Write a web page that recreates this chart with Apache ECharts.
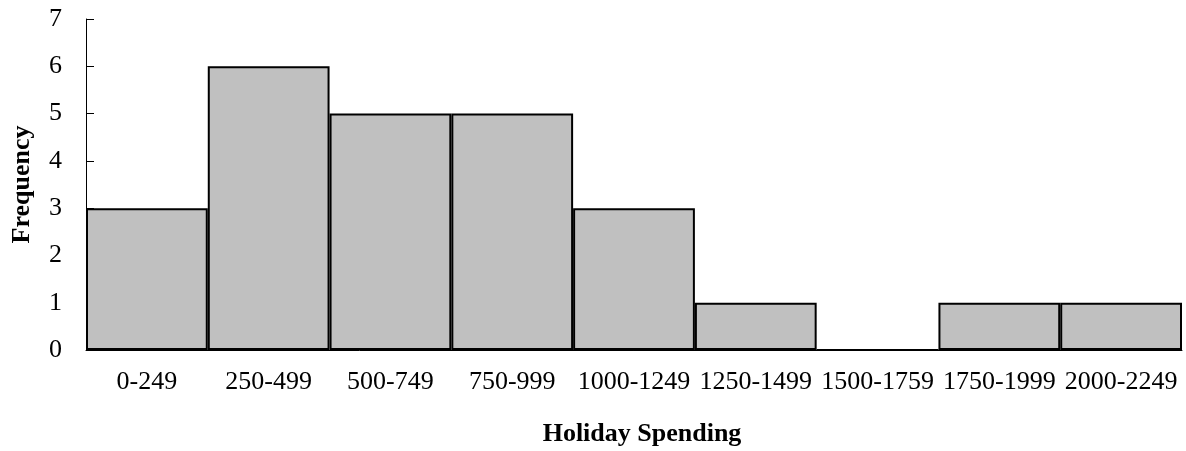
<!DOCTYPE html>
<html>
<head>
<meta charset="utf-8">
<style>html,body{margin:0;padding:0;background:#fff}#c{width:1186px;height:451px}</style>
<script src="https://cdn.jsdelivr.net/npm/echarts@6/dist/echarts.min.js"></script>
</head>
<body>
<div id="c"></div>
<script>
var categories = ['0-249','250-499','500-749','750-999','1000-1249','1250-1499','1500-1759','1750-1999','2000-2249'];
var frequency = [3, 6, 5, 5, 3, 1, 0, 1, 1];
var yTicks = [0, 1, 2, 3, 4, 5, 6, 7];
var xTitle = 'Holiday Spending';
var yTitle = 'Frequency';

var chart = echarts.init(document.getElementById('c'));
var font = '"Liberation Serif", "Times New Roman", serif';
chart.setOption({
  animation: false,
  backgroundColor: '#fff',
  grid: {left: 86, right: 4, top: 19, bottom: 101, containLabel: false, outerBoundsMode: 'none'},
  xAxis: {
    type: 'category',
    data: categories,
    name: xTitle,
    nameLocation: 'middle',
    nameGap: 71,
    nameTextStyle: {fontFamily: font, fontWeight: 'bold', fontSize: 26, color: '#000', padding: [0, 0, 0, 16]},
    axisLine: {lineStyle: {color: '#000', width: 1}},
    axisTick: {show: false},
    axisLabel: {fontFamily: font, fontSize: 26, color: '#000', margin: 19, interval: 0}
  },
  yAxis: {
    type: 'value',
    min: yTicks[0],
    max: yTicks[yTicks.length - 1],
    interval: 1,
    name: yTitle,
    nameLocation: 'middle',
    nameGap: 51,
    nameRotate: 90,
    nameTextStyle: {fontFamily: font, fontWeight: 'bold', fontSize: 26, color: '#000'},
    axisLine: {show: true, lineStyle: {color: '#000', width: 1}},
    axisTick: {show: true, inside: true, length: 8, lineStyle: {color: '#000'}},
    splitLine: {show: false},
    axisLabel: {fontFamily: font, fontSize: 26, color: '#000', margin: 24}
  },
  series: [{
    type: 'bar',
    data: frequency,
    barCategoryGap: '0%',
    itemStyle: {color: '#c0c0c0', borderColor: '#000', borderWidth: 2}
  }]
});
</script>
</body>
</html>
